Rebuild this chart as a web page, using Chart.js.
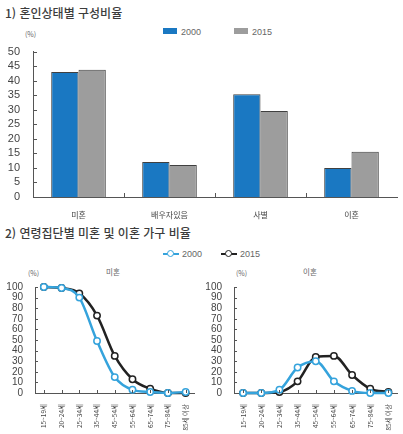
<!DOCTYPE html>
<html lang="ko">
<head>
<meta charset="utf-8">
<title>혼인상태별 구성비율</title>
<script src="https://cdn.jsdelivr.net/npm/chart.js@4"></script>
<style>
  body { margin: 0; background: #fff; font-family: "Noto Sans CJK KR", "Noto Sans", sans-serif; color: #444; }
  #wrap { position: relative; width: 403px; height: 434px; overflow: hidden; }
  .abs { position: absolute; white-space: nowrap; }
  .title { font-size: 12px; font-weight: 500; color: #3c3c3c; }
  .unit { font-size: 7px; color: #666; }
  .leg { font-size: 9px; color: #666; font-family: "Liberation Sans", sans-serif; }
  .box { display: inline-block; width: 14px; height: 6px; vertical-align: 1px; margin-right: 4px; }
  .sub { font-size: 7.5px; color: #666; }
  .lineKey { display: inline-block; position: relative; width: 16px; height: 8px; vertical-align: -1px; margin-right: 3px; }
  .lineKey i { position: absolute; left: 0; right: 0; top: 3px; height: 2px; }
  .lineKey b { position: absolute; left: 4px; top: 0; width: 5px; height: 5px; border-radius: 50%; background: #fff; border: 1.5px solid; }
  canvas { position: absolute; }
</style>
</head>
<body>
<div id="wrap">
  <div class="abs title" style="left:5px; top:4px;">1) 혼인상태별 구성비율</div>
  <div class="abs unit" style="left:25px; top:29px;">(%)</div>
  <div class="abs leg" style="left:163px; top:27px;"><span class="box" style="background:#1a78c2"></span>2000</div>
  <div class="abs leg" style="left:234px; top:27px;"><span class="box" style="background:#9d9d9d"></span>2015</div>
  <canvas id="barChart" style="left:0; top:40px;"></canvas>

  <div class="abs title" style="left:5px; top:224px;">2) 연령집단별 미혼 및 이혼 가구 비율</div>
  <div class="abs leg" style="left:163px; top:249px;"><span class="lineKey"><i style="background:#35a3dc"></i><b style="border-color:#35a3dc"></b></span>2000</div>
  <div class="abs leg" style="left:221px; top:249px;"><span class="lineKey"><i style="background:#222"></i><b style="border-color:#222"></b></span>2015</div>
  <div class="abs unit" style="left:28px; top:268px;">(%)</div>
  <div class="abs sub" style="left:106px; top:266px;">미혼</div>
  <div class="abs unit" style="left:236px; top:268px;">(%)</div>
  <div class="abs sub" style="left:303px; top:266px;">이혼</div>
  <canvas id="singleChart" style="left:0; top:262px;"></canvas>
  <canvas id="divorceChart" style="left:200px; top:262px;"></canvas>
</div>

<script>
// 혼인상태별 구성비율 (%)
const statusLabels = ['미혼', '배우자있음', '사별', '이혼'];
const status2000 = [43.0, 12.0, 35.3, 10.0];
const status2015 = [43.8, 11.0, 29.6, 15.6];

// 연령집단별 미혼 / 이혼 가구 비율 (%)
const ageLabels = ['15~19세', '20~24세', '25~34세', '35~44세', '45~54세', '55~64세', '65~74세', '75~84세', '85세 이상'];
const single2000 = [100, 99, 90, 49, 15, 3, 1, 0, 1];
const single2015 = [100, 99, 94, 73, 35, 13, 4, 0, 0];
const divorce2000 = [0, 0, 3, 24, 30, 11, 2, 0, 0];
const divorce2015 = [0, 0, 1, 11, 34, 35, 17, 4, 1];

const BLUE = '#1a78c2';
const GRAY = '#9d9d9d';
const LINE_BLUE = '#35a3dc';
const LINE_BLACK = '#222222';
const AXIS = '#555555';
const TICK_TEXT = '#444444';

// 축 안쪽으로 짧은 눈금 그리기
const innerTicks = {
  id: 'innerTicks',
  afterDraw(chart, args, opts) {
    const ctx = chart.ctx;
    const xs = chart.scales.x, ys = chart.scales.y;
    const len = opts.len || 3;
    ctx.save();
    ctx.strokeStyle = AXIS;
    ctx.lineWidth = 1;
    ctx.beginPath();
    ys.ticks.forEach((t, i) => {
      const py = Math.round(ys.getPixelForTick(i)) + 0.5;
      ctx.moveTo(ys.right, py);
      ctx.lineTo(ys.right + len, py);
    });
    const n = xs.ticks.length;
    if (opts.between) {
      const half = (xs.getPixelForTick(1) - xs.getPixelForTick(0)) / 2;
      for (let i = 1; i < n; i++) {
        const px = Math.round(xs.getPixelForTick(i) - half) + 0.5;
        ctx.moveTo(px, xs.top);
        ctx.lineTo(px, xs.top - len);
      }
    } else {
      for (let i = 0; i < n; i++) {
        const px = Math.round(xs.getPixelForTick(i)) + 0.5;
        ctx.moveTo(px, xs.top);
        ctx.lineTo(px, xs.top - len);
      }
    }
    ctx.stroke();
    ctx.restore();
  }
};

function sizeCanvas(id, w, h) {
  const c = document.getElementById(id);
  c.width = w; c.height = h;
  c.style.width = w + 'px'; c.style.height = h + 'px';
  return c;
}

// 1) 막대 그래프
new Chart(sizeCanvas('barChart', 403, 180), {
  type: 'bar',
  data: {
    labels: statusLabels,
    datasets: [
      { label: '2000', data: status2000, backgroundColor: BLUE, borderColor: 'rgba(30,30,30,0.85)', borderWidth: 1 },
      { label: '2015', data: status2015, backgroundColor: GRAY, borderColor: 'rgba(30,30,30,0.85)', borderWidth: 1 }
    ]
  },
  options: {
    responsive: false,
    animation: false,
    datasets: { bar: { categoryPercentage: 0.6, barPercentage: 1.0 } },
    layout: { padding: { top: 10, right: 6, left: 0, bottom: 0 } },
    plugins: { legend: { display: false }, tooltip: { enabled: false }, innerTicks: { between: true, len: 4 } },
    scales: {
      x: {
        grid: { display: false },
        border: { display: true, color: AXIS, width: 1 },
        ticks: { color: TICK_TEXT, font: { family: 'Noto Sans CJK KR', size: 8 }, padding: 5 },
        afterFit(s) { s.height = 23; }
      },
      y: {
        min: 0, max: 50,
        grid: { display: false },
        border: { display: true, color: AXIS, width: 1 },
        ticks: { stepSize: 5, autoSkip: false, color: TICK_TEXT, font: { family: 'Liberation Sans', size: 11 }, padding: 5 },
        afterFit(s) { s.width = 33; }
      }
    }
  },
  plugins: [innerTicks]
});

// 2) 연령집단별 선 그래프
function lineChart(id, w, padRight, axisW, d2000, d2015) {
  const pointStyle = (color) => ({
    borderColor: color,
    backgroundColor: color,
    pointBackgroundColor: '#ffffff',
    pointBorderColor: color,
    pointBorderWidth: 1.5,
    pointRadius: 3.2,
    borderWidth: 2.5,
    tension: 0.4,
    cubicInterpolationMode: 'monotone',
    clip: false
  });
  return new Chart(sizeCanvas(id, w, 172), {
    type: 'line',
    data: {
      labels: ageLabels,
      datasets: [
        Object.assign({ label: '2015', data: d2015, order: 2 }, pointStyle(LINE_BLACK)),
        Object.assign({ label: '2000', data: d2000, order: 1 }, pointStyle(LINE_BLUE))
      ]
    },
    options: {
      responsive: false,
      animation: false,
      layout: { padding: { top: 25, right: padRight, left: 0, bottom: 0 } },
      plugins: { legend: { display: false }, tooltip: { enabled: false }, innerTicks: { between: false, len: 3 } },
      scales: {
        x: {
          offset: true,
          grid: { display: false },
          border: { display: true, color: AXIS, width: 1 },
          ticks: {
            autoSkip: false, minRotation: 90, maxRotation: 90,
            color: TICK_TEXT, font: { family: 'Noto Sans CJK KR', size: 6.5 }, padding: 3
          },
          afterFit(s) { s.height = 41; }
        },
        y: {
          min: 0, max: 100,
          grid: { display: false },
          border: { display: true, color: AXIS, width: 1 },
          ticks: { stepSize: 10, autoSkip: false, color: TICK_TEXT, font: { family: 'Liberation Sans', size: 10 }, padding: 4 },
          afterFit(s) { s.width = axisW; }
        }
      }
    },
    plugins: [innerTicks]
  });
}

lineChart('singleChart', 200, 2, 35, single2000, single2015);
lineChart('divorceChart', 203, 2, 34, divorce2000, divorce2015);
</script>
</body>
</html>
